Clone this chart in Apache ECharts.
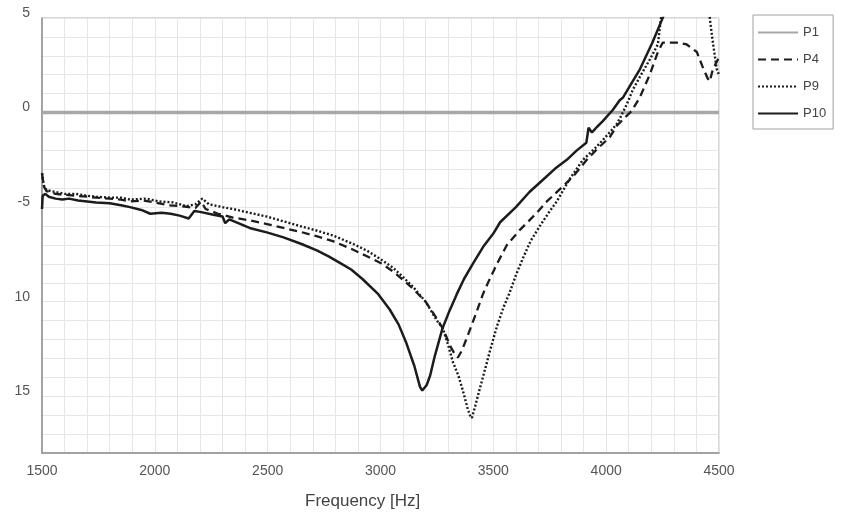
<!DOCTYPE html>
<html>
<head>
<meta charset="utf-8">
<script src="https://cdn.jsdelivr.net/npm/echarts@6/dist/echarts.min.js"></script>
<style>html,body{margin:0;padding:0;background:#fff;}#c{width:843px;height:518px;}</style>
</head>
<body>
<div id="c"></div>
<script>
// ---- data ----
var seriesNames = ['P1', 'P4', 'P9', 'P10'];
var xTickValues = [1500, 2000, 2500, 3000, 3500, 4000, 4500];
var yTickValues = [5, 0, -5, -10, -15];
var yTickLabels = ['5', '0', '-5', '10', '15'];

var p1Freq = [1500, 4500];
var p1Val  = [0, 0];

var p4Freq = [1500,1508,1520,1560,1600,1650,1700,1740,1800,1850,1890,1950,2000,2060,2120,2150,2180,2205,2225,2280,2346,2420,2497,2570,2643,2720,2789,2870,2940,3000,3055,3100,3143,3200,3250,3280,3307,3330,3343,3360,3383,3427,3454,3480,3516,3560,3618,3693,3737,3795,3852,3914,3958,4016,4047,4080,4114,4149,4193,4229,4251,4313,4357,4402,4428,4450,4459,4473,4495,4500];
var p4Val  = [-3.2,-3.9,-4.15,-4.3,-4.35,-4.4,-4.45,-4.5,-4.55,-4.6,-4.7,-4.65,-4.75,-4.9,-4.95,-5.0,-5.05,-4.7,-5.1,-5.35,-5.55,-5.7,-5.9,-6.1,-6.3,-6.55,-6.8,-7.2,-7.6,-7.95,-8.4,-8.85,-9.3,-10.0,-10.9,-11.5,-12.3,-12.8,-12.95,-12.6,-11.9,-10.5,-9.6,-8.9,-8.0,-7.0,-6.2,-5.3,-4.7,-4.05,-3.4,-2.5,-1.95,-1.3,-0.7,-0.3,0.1,0.8,2.0,3.2,3.7,3.7,3.6,3.2,2.4,1.8,1.65,2.3,2.8,2.9];

var p9Freq = [1500,1508,1520,1560,1600,1650,1700,1740,1800,1850,1890,1960,2020,2080,2140,2180,2210,2240,2300,2346,2420,2497,2570,2643,2720,2789,2870,2940,3000,3055,3100,3143,3200,3250,3276,3300,3321,3345,3365,3385,3396,3405,3420,3440,3465,3485,3516,3545,3573,3600,3631,3665,3706,3745,3781,3839,3897,3958,4016,4047,4061,4090,4118,4150,4193,4229,4242,4256,4350,4452,4460,4473,4490,4500];
var p9Val  = [-3.2,-3.85,-4.1,-4.2,-4.3,-4.3,-4.4,-4.45,-4.5,-4.5,-4.6,-4.55,-4.7,-4.75,-4.95,-4.85,-4.55,-4.85,-5.0,-5.1,-5.3,-5.5,-5.75,-6.0,-6.25,-6.5,-6.9,-7.3,-7.75,-8.2,-8.7,-9.2,-10.0,-11.0,-11.4,-12.3,-13.2,-13.9,-14.7,-15.6,-16.0,-16.15,-15.5,-14.6,-13.5,-12.6,-11.3,-10.3,-9.5,-8.6,-7.7,-6.8,-6.0,-5.3,-4.7,-3.5,-2.5,-1.8,-1.05,-0.6,-0.3,0.4,1.2,1.9,2.8,3.6,4.9,6.0,9.0,6.0,4.9,3.7,2.3,2.0];

var p10Freq = [1500,1503,1515,1530,1560,1590,1620,1660,1700,1740,1800,1850,1890,1940,1980,2030,2070,2110,2150,2175,2200,2260,2300,2312,2330,2420,2500,2570,2650,2720,2770,2820,2870,2920,2990,3040,3080,3115,3150,3175,3185,3205,3220,3240,3275,3305,3338,3370,3409,3455,3500,3530,3600,3660,3720,3780,3830,3870,3912,3922,3937,3960,3985,4030,4060,4075,4110,4150,4205,4247,4270];
var p10Val  = [-5.1,-4.4,-4.3,-4.45,-4.55,-4.6,-4.55,-4.65,-4.7,-4.75,-4.8,-4.9,-5.0,-5.15,-5.35,-5.3,-5.35,-5.45,-5.6,-5.2,-5.25,-5.4,-5.5,-5.85,-5.65,-6.1,-6.35,-6.6,-6.95,-7.3,-7.6,-7.95,-8.3,-8.8,-9.6,-10.4,-11.2,-12.2,-13.4,-14.5,-14.7,-14.4,-13.9,-12.9,-11.4,-10.5,-9.6,-8.8,-8.0,-7.1,-6.4,-5.8,-5.0,-4.2,-3.55,-2.9,-2.45,-2.0,-1.6,-0.8,-1.05,-0.75,-0.45,0.15,0.65,0.8,1.5,2.3,3.7,4.9,5.6];

function pairs(f, v) { return f.map(function (x, i) { return [x, v[i]]; }); }

var chart = echarts.init(document.getElementById('c'), null, { renderer: 'canvas' });
var font = 'Liberation Sans, Arial, sans-serif';
var ink = '#1c1c1c';

chart.setOption({
  animation: false,
  backgroundColor: '#ffffff',
  textStyle: { fontFamily: font },
  grid: { left: 42, top: 18, width: 677, height: 435, show: true, borderColor: '#b0b0b0', borderWidth: 1, containLabel: false },
  xAxis: {
    type: 'value', min: 1500, max: 4500, interval: 100,
    axisLine: { show: true, onZero: false, lineStyle: { color: '#8f8f8f', width: 1.5 } },
    axisTick: { show: false },
    splitLine: { show: true, lineStyle: { color: '#e6e6e6', width: 1 } },
    axisLabel: {
      color: '#555', fontSize: 14, margin: 11, fontFamily: font,
      formatter: function (v) { return xTickValues.indexOf(v) >= 0 ? String(v) : ''; }
    }
  },
  yAxis: {
    type: 'value', min: -18, max: 5, interval: 1,
    axisLine: { show: true, onZero: false, lineStyle: { color: '#8f8f8f', width: 1.5 } },
    axisTick: { show: false },
    splitLine: { show: true, lineStyle: { color: '#e6e6e6', width: 1 } },
    axisLabel: {
      color: '#555', fontSize: 14, margin: 12, fontFamily: font,
      verticalAlign: 'bottom', lineHeight: 10,
      formatter: function (v) { var i = yTickValues.indexOf(v); return i >= 0 ? yTickLabels[i] : ''; }
    }
  },
  legend: {
    orient: 'vertical', left: 753, top: 15,
    itemWidth: 40, itemHeight: 12, itemGap: 14,
    padding: [11, 7, 9, 4],
    borderColor: '#a0a0a0', borderWidth: 1,
    itemStyle: { opacity: 0 },
    textStyle: { color: '#444', fontSize: 13, fontFamily: font },
    data: seriesNames
  },
  graphic: [{
    type: 'text', left: 305, top: 493,
    style: { text: 'Frequency [Hz]', fill: '#444', font: '17px Liberation Sans, Arial, sans-serif' }
  }],
  series: [
    { name: seriesNames[0], type: 'line', symbol: 'none', clip: true, data: pairs(p1Freq, p1Val),
      lineStyle: { color: '#a8a8a8', width: 3.5 }, itemStyle: { color: '#a8a8a8' }, z: 1 },
    { name: seriesNames[1], type: 'line', symbol: 'none', clip: true, data: pairs(p4Freq, p4Val),
      lineStyle: { color: ink, width: 2.3, type: [8, 5] }, itemStyle: { color: ink }, z: 3 },
    { name: seriesNames[2], type: 'line', symbol: 'none', clip: true, data: pairs(p9Freq, p9Val),
      lineStyle: { color: ink, width: 2.4, type: [2, 2] }, itemStyle: { color: ink }, z: 3 },
    { name: seriesNames[3], type: 'line', symbol: 'none', clip: true, data: pairs(p10Freq, p10Val),
      lineStyle: { color: ink, width: 2.5 }, itemStyle: { color: ink }, z: 4 }
  ]
});
</script>
</body>
</html>
